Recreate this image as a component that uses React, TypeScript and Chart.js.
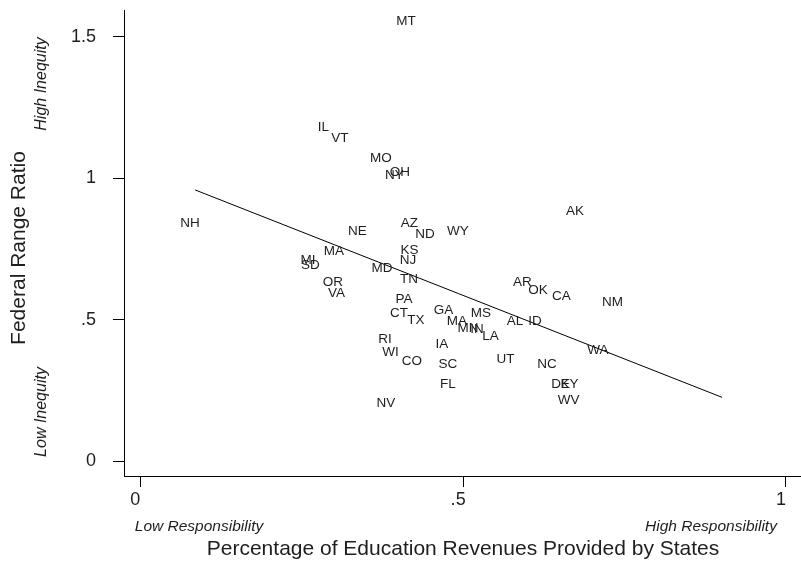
import React, { useEffect, useRef } from "react";
import { Chart, registerables } from "chart.js";

Chart.register(...registerables);

const stateCodes = [
  "MT", "IL", "VT", "MO", "OH", "NY", "NH", "MA", "MI", "SD", "OR", "VA",
  "NE", "AZ", "ND", "WY", "KS", "NJ", "MD", "TN", "PA", "CT", "TX", "GA",
  "MS", "MA", "MN", "IN", "LA", "AL", "ID", "RI", "IA", "WI", "CO", "SC",
  "UT", "NC", "FL", "NV", "AR", "OK", "CA", "NM", "WA", "DE", "KY", "WV", "AK",
];

const shareFromStates = [
  0.4115, 0.2837, 0.3093, 0.3728, 0.4022, 0.3937, 0.077, 0.300, 0.2597, 0.2636, 0.2984, 0.3039,
  0.3364, 0.4169, 0.4409, 0.492, 0.4169, 0.4146, 0.3743, 0.4161, 0.4084, 0.4007, 0.427, 0.4696,
  0.5276, 0.4905, 0.5075, 0.5214, 0.5424, 0.5803, 0.6113, 0.379, 0.4672, 0.3875, 0.4208, 0.4765,
  0.5656, 0.6299, 0.4765, 0.3805, 0.5919, 0.6159, 0.6523, 0.7313, 0.7088, 0.6508, 0.6647, 0.6635, 0.6732,
];

const federalRangeRatio = [
  1.559, 1.185, 1.146, 1.075, 1.026, 1.015, 0.846, 0.747, 0.715, 0.697, 0.637, 0.598,
  0.817, 0.846, 0.807, 0.817, 0.748, 0.715, 0.687, 0.648, 0.577, 0.528, 0.501, 0.536,
  0.528, 0.499, 0.475, 0.471, 0.446, 0.499, 0.499, 0.436, 0.418, 0.390, 0.356, 0.347,
  0.365, 0.347, 0.277, 0.210, 0.637, 0.607, 0.586, 0.566, 0.397, 0.277, 0.277, 0.218, 0.888,
];

const fitX = [0.085, 0.901];
const fitY = [0.959, 0.226];

const xTickValues = [0, 0.5, 1];
const xTickLabels = ["0", ".5", "1"];
const yTickValues = [0, 0.5, 1, 1.5];
const yTickLabels = ["0", ".5", "1", "1.5"];

const FONT = "'Liberation Sans', Arial, Helvetica, sans-serif";
const TEXT = "#1e1e1e";

const stateLabelPlugin = {
  id: "stateLabels",
  afterDatasetsDraw(chart: any) {
    const ctx = chart.ctx;
    const meta = chart.getDatasetMeta(0);
    ctx.save();
    ctx.font = `13.5px ${FONT}`;
    ctx.fillStyle = TEXT;
    ctx.textAlign = "center";
    ctx.textBaseline = "middle";
    meta.data.forEach((pt: any, i: number) => {
      ctx.fillText(stateCodes[i], pt.x, pt.y + 1);
    });
    ctx.restore();
  },
};

const annotationPlugin = {
  id: "annotations",
  afterDraw(chart: any) {
    const ctx = chart.ctx;
    ctx.save();
    ctx.fillStyle = TEXT;
    ctx.textAlign = "center";
    ctx.textBaseline = "middle";
    ctx.font = `21px ${FONT}`;
    ctx.fillText("Percentage of Education Revenues Provided by States", 463, 549);
    ctx.font = `italic 15.5px ${FONT}`;
    ctx.fillText("Low Responsibility", 199, 527);
    ctx.fillText("High Responsibility", 711, 527);
    ctx.save();
    ctx.translate(19, 248);
    ctx.rotate(-Math.PI / 2);
    ctx.font = `21px ${FONT}`;
    ctx.fillText("Federal Range Ratio", 0, 0);
    ctx.restore();
    ctx.save();
    ctx.translate(42, 84);
    ctx.rotate(-Math.PI / 2);
    ctx.font = `italic 16px ${FONT}`;
    ctx.fillText("High Inequity", 0, 0);
    ctx.restore();
    ctx.save();
    ctx.translate(42, 412);
    ctx.rotate(-Math.PI / 2);
    ctx.font = `italic 16px ${FONT}`;
    ctx.fillText("Low Inequity", 0, 0);
    ctx.restore();
    ctx.restore();
  },
};

export default function App() {
  const ref = useRef<HTMLCanvasElement | null>(null);

  useEffect(() => {
    if (!ref.current) return;
    const points = shareFromStates.map((x, i) => ({ x, y: federalRangeRatio[i] }));
    const fit = fitX.map((x, i) => ({ x, y: fitY[i] }));
    const chart = new Chart(ref.current, {
      type: "scatter",
      data: {
        datasets: [
          {
            data: points,
            pointRadius: 0,
            pointHoverRadius: 0,
            showLine: false,
          },
          {
            data: fit,
            showLine: true,
            borderColor: "#000",
            borderWidth: 1,
            pointRadius: 0,
            pointHoverRadius: 0,
            fill: false,
          },
        ],
      },
      options: {
        animation: false,
        responsive: false,
        devicePixelRatio: 1,
        layout: { padding: { top: 10, right: 1, left: 0, bottom: 0 } },
        plugins: {
          legend: { display: false },
          tooltip: { enabled: false },
        },
        events: [],
        scales: {
          x: {
            type: "linear",
            min: -0.0252,
            max: 1.0217,
            afterBuildTicks: (scale: any) => {
              scale.ticks = xTickValues.map((v) => ({ value: v }));
            },
            afterFit: (scale: any) => {
              scale.height = 85;
              scale.paddingLeft = 0;
              scale.paddingRight = 0;
            },
            grid: {
              display: true,
              drawOnChartArea: false,
              drawTicks: true,
              tickLength: 11,
              color: "#000",
              lineWidth: 1,
            },
            border: { display: true, color: "#000", width: 1 },
            ticks: {
              autoSkip: false,
              maxRotation: 0,
              padding: 2,
              labelOffset: -5,
              color: TEXT,
              font: { family: FONT, size: 18 },
              callback: (v: any) => {
                const i = xTickValues.indexOf(Number(v));
                return i >= 0 ? xTickLabels[i] : "";
              },
            },
          },
          y: {
            type: "linear",
            min: -0.052,
            max: 1.595,
            afterBuildTicks: (scale: any) => {
              scale.ticks = yTickValues.map((v) => ({ value: v }));
            },
            afterFit: (scale: any) => {
              scale.width = 124;
              scale.paddingTop = 0;
              scale.paddingBottom = 0;
            },
            grid: {
              display: true,
              drawOnChartArea: false,
              drawTicks: true,
              tickLength: 11,
              color: "#000",
              lineWidth: 1,
            },
            border: { display: true, color: "#000", width: 1 },
            ticks: {
              autoSkip: false,
              padding: 17,
              color: TEXT,
              font: { family: FONT, size: 18 },
              callback: (v: any) => {
                const i = yTickValues.indexOf(Number(v));
                return i >= 0 ? yTickLabels[i] : "";
              },
            },
          },
        },
      },
      plugins: [stateLabelPlugin, annotationPlugin],
    } as any);
    return () => chart.destroy();
  }, []);

  return (
    <div style={{ position: "absolute", left: 0, top: 0, width: 801, height: 561, background: "#fff" }}>
      <canvas ref={ref} width={801} height={561} style={{ display: "block" }} />
    </div>
  );
}
